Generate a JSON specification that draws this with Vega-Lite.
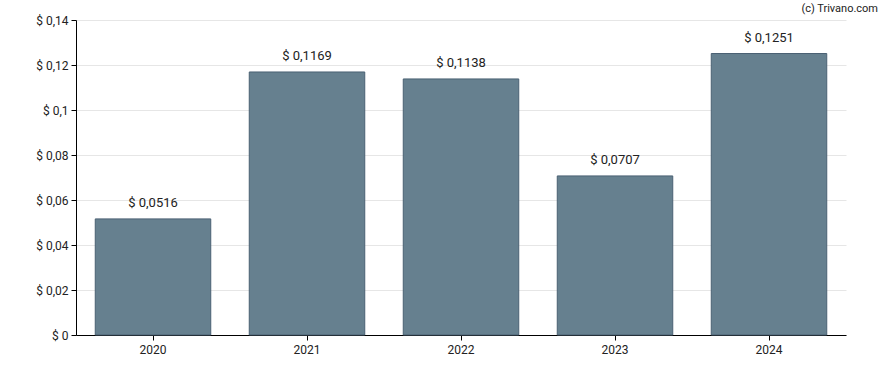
{
  "$schema": "https://vega.github.io/schema/vega-lite/v6.json",
  "width": 770,
  "height": 315,
  "autosize": {"type": "none"},
  "padding": {"left": 76, "top": 20, "right": 42, "bottom": 35},
  "title": {"text": "(c) Trivano.com", "anchor": "end", "frame": "group", "dx": 32, "offset": 0, "fontSize": 11, "font": "Roboto", "fontWeight": "normal", "color": "#222222"},
  "data": {"values": [
    {"year": "2020", "value": 0.0516},
    {"year": "2021", "value": 0.1169},
    {"year": "2022", "value": 0.1138},
    {"year": "2023", "value": 0.0707},
    {"year": "2024", "value": 0.1251}
  ]},
  "encoding": {
    "x": {"field": "year", "type": "nominal", "title": null, "scale": {"paddingInner": 0.25, "paddingOuter": 0.125},
      "axis": {"labelAngle": 0, "domainColor": "#000000", "tickColor": "#000000", "tickSize": 5, "labelPadding": 4, "labelFontSize": 12, "labelFont": "Roboto", "labelColor": "#222222", "grid": false}},
    "y": {"field": "value", "type": "quantitative", "title": null, "scale": {"domain": [0, 0.14], "nice": false},
      "axis": {"values": [0, 0.02, 0.04, 0.06, 0.08, 0.1, 0.12, 0.14], "format": "$.2~f", "domainColor": "#000000", "tickColor": "#000000", "tickSize": 5, "labelPadding": 3, "labelFontSize": 12, "labelFont": "Roboto", "labelColor": "#222222", "gridColor": "#e6e6e6"}}
  },
  "layer": [
    {"mark": {"type": "bar", "color": "#66808f", "stroke": "#4a6073", "strokeWidth": 1}},
    {"mark": {"type": "text", "baseline": "bottom", "dy": -9, "fontSize": 13, "font": "Roboto", "color": "#222222"},
      "encoding": {"text": {"field": "value", "type": "quantitative", "format": "$.4f"}}}
  ],
  "config": {
    "view": {"stroke": null},
    "locale": {"number": {"decimal": ",", "thousands": ".", "grouping": [3], "currency": ["$ ", ""]}}
  }
}
